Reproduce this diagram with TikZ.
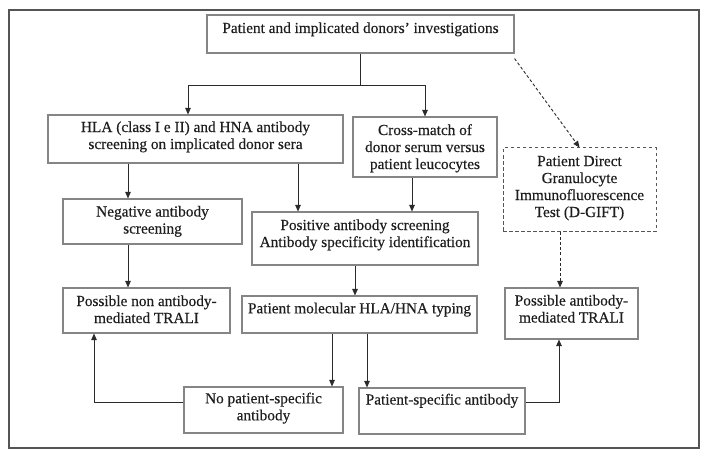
\documentclass[tikz,border=0pt]{standalone}
\usepackage{fontspec}
\setmainfont{Liberation Serif}
\newfontfamily\lblfont{Liberation Serif}[FakeBold=0.35]
\usetikzlibrary{arrows.meta}
\definecolor{boxcol}{HTML}{858585}
\definecolor{linecol}{HTML}{2A2A2A}
\definecolor{framecol}{HTML}{555555}
\definecolor{txtcol}{HTML}{1E1E1E}
\tikzset{
  box/.style={draw=boxcol, line width=1.1pt, fill=white, inner sep=0pt},
  dbox/.style={draw=framecol, line width=1pt, dash pattern=on 3.5pt off 2.5pt, fill=white, inner sep=0pt},
  lbl/.style={anchor=north, inner sep=0pt, align=center, text=txtcol,
    font=\lblfont\fontsize{15.3}{17}\selectfont},
  conn/.style={draw=linecol, line width=0.9pt},
  arr/.style={conn, -{Triangle[length=6.5pt,width=5.5pt]}},
  darr/.style={draw=linecol, line width=0.9pt, dash pattern=on 3pt off 2.2pt,
    -{Triangle[length=6.5pt,width=5.5pt]}}
}
\begin{document}
\begin{tikzpicture}[x=1pt,y=-1pt]
\useasboundingbox (0,0) rectangle (708,457);
\fill[white] (0,0) rectangle (708,457);
\draw[framecol, line width=1.5pt, fill=white] (9,10) rectangle (699,448);

% boxes
\node[box, minimum width=307pt, minimum height=38pt] (top) at (360.5,34) {};
\node[box, minimum width=295pt, minimum height=48pt] (hla) at (195.5,139) {};
\node[box, minimum width=144pt, minimum height=60pt] (cm) at (425,147) {};
\node[dbox, minimum width=153pt, minimum height=83pt] (dg) at (579.5,189.5) {};
\node[box, minimum width=179pt, minimum height=45pt] (neg) at (152.5,221.5) {};
\node[box, minimum width=226pt, minimum height=53pt] (pos) at (365,238.5) {};
\node[box, minimum width=167pt, minimum height=45pt] (pnon) at (146.5,310.5) {};
\node[box, minimum width=235pt, minimum height=37pt] (mol) at (359.5,314.5) {};
\node[box, minimum width=133pt, minimum height=51pt] (pant) at (571.5,313.5) {};
\node[box, minimum width=159pt, minimum height=46pt] (nopat) at (263.5,410) {};
\node[box, minimum width=166pt, minimum height=46pt] (pspec) at (442,411) {};

% texts
\node[lbl] (top-t) at (360.5,20.9) {\strut Patient and implicated donors’ investigations};
\node[lbl] (hla-t) at (195.5,119.9) {\strut HLA (class I e II) and HNA antibody\\screening on implicated donor sera};
\node[lbl] (cm-t) at (425,122.9) {\strut Cross-match of\\donor serum versus\\patient leucocytes};
\node[lbl] (dg-t) at (579.5,153.9) {\strut Patient Direct\\Granulocyte\\Immunofluorescence\\Test (D-GIFT)};
\node[lbl] (neg-t) at (152.5,204.4) {\strut Negative antibody\\screening};
\node[lbl] (pos-t) at (365,217.9) {\strut Positive antibody screening\\Antibody specificity identification};
\node[lbl] (pnon-t) at (146.5,293.9) {\strut Possible non antibody-\\mediated TRALI};
\node[lbl] (mol-t) at (359.5,301.2) {\strut Patient molecular HLA/HNA typing};
\node[lbl] (pant-t) at (571.5,293.4) {\strut Possible antibody-\\mediated TRALI};
\node[lbl] (nopat-t) at (263.5,391.2) {\strut No patient-specific\\antibody};
\node[lbl] (pspec-t) at (442,392.4) {\strut Patient-specific antibody};

% connectors
\coordinate (j) at (360.5,85);
\draw[conn] (top.south) -- (j);
\draw[arr] (j) -| ([xshift=-7.5pt]hla.north);
\draw[arr] (j) -| (cm.north);
\draw[arr] ([xshift=-24.5pt]neg.north |- hla.south) -- ([xshift=-24.5pt]neg.north);
\draw[arr] ([xshift=-24.5pt]neg.south) -- ([xshift=-24.5pt]neg.south |- pnon.north);
\draw[arr] ([xshift=-67pt]pos.north |- hla.south) -- ([xshift=-67pt]pos.north);
\draw[arr] ([xshift=-13pt]cm.south) -- ([xshift=-13pt]cm.south |- pos.north);
\draw[arr] ([xshift=-10pt]pos.south) -- ([xshift=-10pt]pos.south |- mol.north);
\draw[arr] ([xshift=-27.5pt]mol.south) -- ([xshift=-27.5pt]mol.south |- nopat.north);
\draw[arr] ([xshift=7.5pt]mol.south) -- ([xshift=7.5pt]mol.south |- pspec.north);
\draw[arr] ([yshift=8pt]nopat.west) -| ([xshift=-52.5pt]pnon.south);
\draw[arr] ([yshift=9pt]pspec.east) -| ([xshift=-12.5pt]pant.south);
\draw[darr] ([yshift=-5pt]top.south east) -- (dg.north);
\draw[darr] ([xshift=-19.5pt]dg.south) -- ([xshift=-19.5pt]dg.south |- pant.north);
\end{tikzpicture}
\end{document}
